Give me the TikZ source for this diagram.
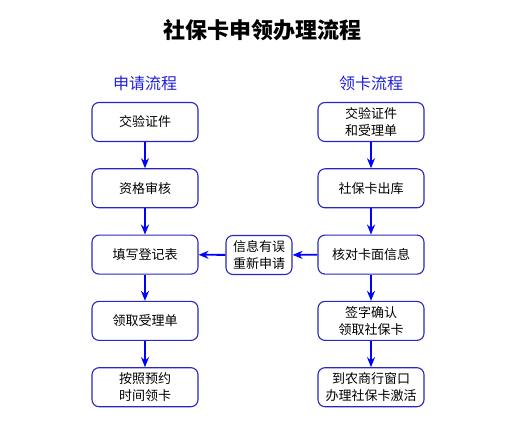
\documentclass[tikz,border=0pt]{standalone}
\usepackage{fontspec}
\setmainfont{Noto Sans CJK SC}
\usetikzlibrary{shapes.geometric, arrows, arrows.meta, positioning}
\definecolor{boxline}{RGB}{40,40,190}
\definecolor{headblue}{RGB}{30,30,220}
\tikzstyle{process} = [
  rectangle,
  rounded corners=7pt,
  minimum width=106pt,
  minimum height=39pt,
  text centered,
  align=center,
  draw=boxline,
  line width=1.1pt,
  fill=white,
  font=\fontsize{13}{17.5}\selectfont
]
\tikzstyle{heading} = [
  text=headblue,
  font=\fontsize{16}{18}\selectfont
]
\tikzstyle{arrow} = [line width=1.8pt, -{Stealth[length=10pt,width=8pt]}, draw=blue]

\begin{document}
\begin{tikzpicture}[node distance=66.3pt]
    \useasboundingbox (0,0) rectangle (530pt,-438pt);
    \node (title) at (262pt,-30pt) [font=\fontsize{22}{26}\selectfont\bfseries] {社保卡申领办理流程};
    \node (apply-head) at (145pt,-83pt) [heading] {申请流程};
    \node (collect-head) at (371pt,-83pt) [heading] {领卡流程};

    \node (check-docs) at (145pt,-122pt) [process] {交验证件};
    \node (review) [process, below of=check-docs] {资格审核};
    \node (fill-form) [process, below of=review] {填写登记表};
    \node (get-receipt) [process, below of=fill-form] {领取受理单};
    \node (appointment) [process, below of=get-receipt] {按照预约\\时间领卡};

    \node (check-receipt) at (371pt,-122pt) [process] {交验证件\\和受理单};
    \node (out-stock) [process, below of=check-receipt] {社保卡出库};
    \node (verify-info) [process, below of=out-stock] {核对卡面信息};
    \node (sign) [process, below of=verify-info] {签字确认\\领取社保卡};
    \node (activate) [process, below of=sign] {到农商行窗口\\办理社保卡激活};

    \node (info-error) at (259pt,-255pt) [process, minimum width=66pt] {信息有误\\重新申请};

    \draw [arrow] (check-docs) -- (review);
    \draw [arrow] (review) -- (fill-form);
    \draw [arrow] (fill-form) -- (get-receipt);
    \draw [arrow] (get-receipt) -- (appointment);
    \draw [arrow] (check-receipt) -- (out-stock);
    \draw [arrow] (out-stock) -- (verify-info);
    \draw [arrow] (verify-info) -- (sign);
    \draw [arrow] (sign) -- (activate);
    \draw [arrow] (verify-info) -- (info-error);
    \draw [arrow] (info-error) -- (fill-form);
  \end{tikzpicture}
\end{document}
